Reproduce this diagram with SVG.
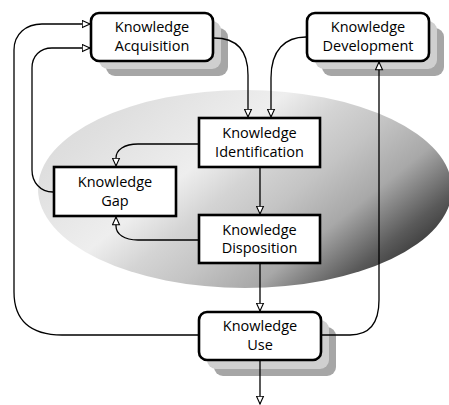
<svg xmlns="http://www.w3.org/2000/svg" width="449" height="405" viewBox="0 0 449 405">
<style>
.box{fill:#fff;stroke:#000;stroke-width:2.6}
.sh1{fill:#cfcfcf}
.sh2{fill:#a6a6a6}
.lbl{font-family:"Open Sans","Liberation Sans",sans-serif;font-size:14.5px;text-anchor:middle;fill:#000}
.con{fill:none;stroke:#000;stroke-width:1.3;marker-end:url(#arr)}
</style>
<defs>
<linearGradient id="g" x1="0" y1="0" x2="1.176" y2="0.706">
<stop offset="0" stop-color="#d6d6d6"/>
<stop offset="0.17" stop-color="#dfdfdf"/>
<stop offset="0.38" stop-color="#eeeeee"/>
<stop offset="0.48" stop-color="#d4d4d4"/>
<stop offset="0.58" stop-color="#c4c4c4"/>
<stop offset="0.7" stop-color="#a8a8a8"/>
<stop offset="0.82" stop-color="#5a5a5a"/>
<stop offset="0.9" stop-color="#333333"/>
<stop offset="1" stop-color="#222222"/>
</linearGradient>
<marker id="arr" markerUnits="userSpaceOnUse" markerWidth="10" markerHeight="9" refX="8.5" refY="4" orient="auto" viewBox="0 0 10 8">
<path d="M0.7,0.5 L8.5,4 L0.7,7.5 Z" fill="#fff" stroke="#000" stroke-width="1.1"/>
</marker>
</defs>
<ellipse id="bg" cx="245" cy="189" rx="207" ry="99" fill="url(#g)"/>
<g id="acquisition">
<rect class="sh2" x="106" y="28" width="122" height="48" rx="9"/>
<rect class="sh1" x="99" y="21" width="122" height="48" rx="9"/>
<rect class="box" x="91" y="13" width="122" height="48" rx="8"/>
<text class="lbl" x="152" y="32">Knowledge</text>
<text class="lbl" x="152" y="51">Acquisition</text>
</g>
<g id="development">
<rect class="sh2" x="322" y="28" width="122" height="48" rx="9"/>
<rect class="sh1" x="315" y="21" width="122" height="48" rx="9"/>
<rect class="box" x="307" y="13" width="122" height="48" rx="8"/>
<text class="lbl" x="368" y="32">Knowledge</text>
<text class="lbl" x="368" y="51">Development</text>
</g>
<g id="identification">
<rect class="box" x="199" y="118" width="121" height="49"/>
<text class="lbl" x="259.5" y="138">Knowledge</text>
<text class="lbl" x="259.5" y="157">Identification</text>
</g>
<g id="gap">
<rect class="box" x="54" y="167" width="122" height="49"/>
<text class="lbl" x="115" y="187">Knowledge</text>
<text class="lbl" x="115" y="206">Gap</text>
</g>
<g id="disposition">
<rect class="box" x="199" y="215" width="121" height="48"/>
<text class="lbl" x="259.5" y="235">Knowledge</text>
<text class="lbl" x="259.5" y="253">Disposition</text>
</g>
<g id="use">
<rect class="sh2" x="214" y="327" width="122" height="49" rx="9"/>
<rect class="sh1" x="207" y="320" width="122" height="49" rx="9"/>
<rect class="box" x="199" y="312" width="122" height="48" rx="8"/>
<text class="lbl" x="260" y="331">Knowledge</text>
<text class="lbl" x="260" y="350">Use</text>
</g>
<g id="connectors">
<path class="con" d="M214,38 C236,38 248,50 248,75 V117"/>
<path class="con" d="M306,37 C285,37 271,50 271,78 V117"/>
<path class="con" d="M198,144 H138 C124,144 116,150 116,158 V166"/>
<path class="con" d="M198,240 H138 C124,240 116,234 116,226 V217"/>
<path class="con" d="M260,168 V214"/>
<path class="con" d="M260,264 V311"/>
<path class="con" d="M260,361 V404"/>
<path class="con" d="M53,192 C40,192 32,182 32,170 V68 C32,56 40,48 52,48 H90"/>
<path class="con" d="M198,335 H62 C30,335 14,320 14,292 V50 C14,34 26,24 42,24 H90"/>
<path class="con" d="M322,335 H350 C370,335 379,322 379,300 V62"/>
</g>
</svg>
